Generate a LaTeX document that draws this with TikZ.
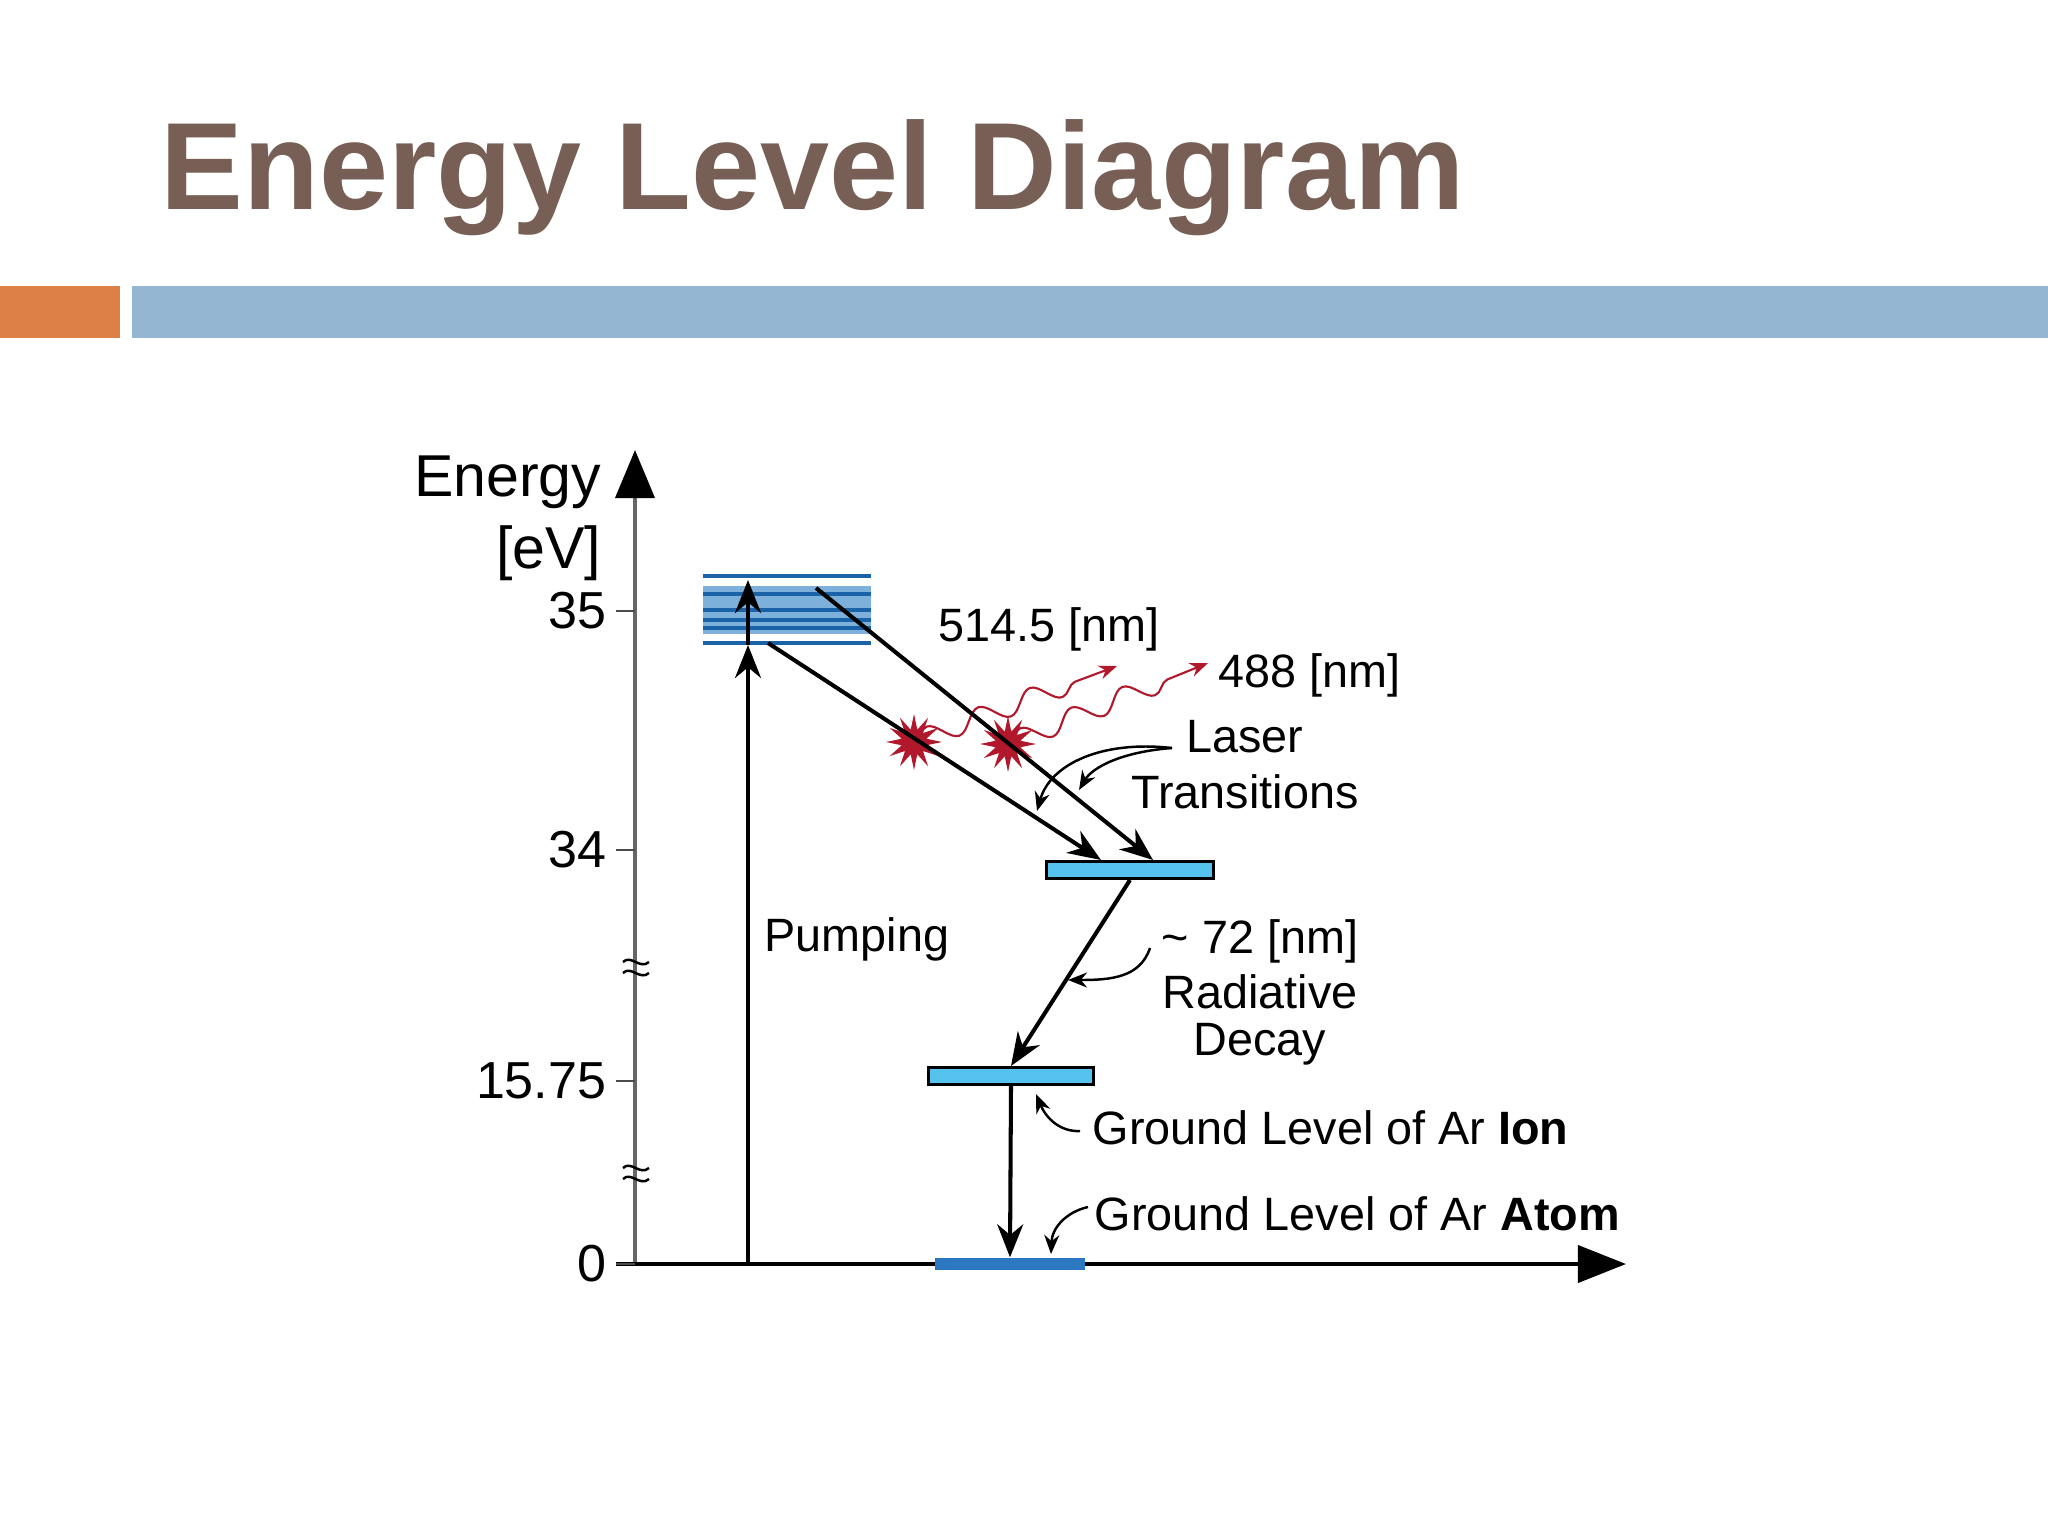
\documentclass[tikz,border=0pt]{standalone}
\usepackage{fontspec}
\setmainfont{Liberation Sans}
\usetikzlibrary{arrows.meta,shapes.geometric,decorations.pathmorphing,positioning}
\definecolor{titlebrown}{HTML}{775F55}
\definecolor{barorange}{HTML}{DD8047}
\definecolor{barblue}{HTML}{94B6D2}
\definecolor{bandline}{HTML}{1A63A8}
\definecolor{bandfill}{HTML}{7DB0DA}
\definecolor{levelfill}{HTML}{56C2EE}
\definecolor{groundfill}{HTML}{2B77C0}
\definecolor{photon}{HTML}{B2182B}

\begin{document}
\begin{tikzpicture}[x=0.01cm, y=-0.01cm,
	lbl/.style={inner sep=0pt, font=\fontsize{13.3}{16}\selectfont},
	ticklbl/.style={inner sep=0pt, anchor=east, font=\fontsize{14.8}{17}\selectfont},
	axlbl/.style={inner sep=0pt, anchor=base east, font=\fontsize{16.8}{20}\selectfont},
	level/.style={draw=black, line width=0.85pt, fill=levelfill, inner sep=0pt, minimum height=0.17cm},
	trans/.style={black, line width=1.15pt, -{Stealth[length=3.3mm, width=2.6mm]}},
	pointer/.style={black, line width=0.7pt, -{Stealth[length=1.9mm, width=1.5mm]}},
	wave/.style={photon, line width=0.6pt, decorate, decoration={snake, amplitude=1mm, segment length=5.5mm, post length=1.8mm}, -{Stealth[length=1.8mm, width=1.4mm]}},
	burst/.style={star, star points=12, star point ratio=2.2, fill=photon, draw=none, inner sep=0pt, minimum size=0.56cm}
]
	\fill[white] (0,0) rectangle (2048,1536);
	\useasboundingbox (0,0) rectangle (2048,1536);
	\node[anchor=base west, inner sep=0pt, text=titlebrown, font=\fontsize{35.3}{40}\selectfont\bfseries] (title) at (160,209) {Energy Level Diagram};
	\fill[barorange] (0,286) rectangle (120,338);
	\fill[barblue] (132,286) rectangle (2048,338);

	\coordinate (origin) at (635,1264);
	\coordinate (etop) at (635,450);
	\coordinate (xstart) at (616,1264);
	\coordinate (xend) at (1626,1264);
	\draw[black!60, line width=1.1pt, -{Triangle[length=4.8mm, width=3.9mm, black]}] (origin) -- (etop);
	\draw[black, line width=1.1pt, -{Triangle[length=4.8mm, width=3.7mm]}] (xstart) -- (xend);
	\node[axlbl] (energy) at (602,496) {Energy};
	\node[axlbl] (unit) at (602,568) {[eV]};
	\foreach \y/\t [count=\i] in {611/35, 850/34, 1081/15.75, 1264/0}{
		\draw[black!70, line width=0.8pt] (616,\y) -- (635,\y);
		\node[ticklbl] (tick\i) at (607,\y) {\t};
	}
	\foreach \b in {969,1175}{
		\draw[black, line width=0.7pt] (623,\b-7) .. controls (631,\b-15) and (640,\b+1) .. (649,\b-7);
		\draw[black, line width=0.7pt] (623,\b+4) .. controls (631,\b-4) and (640,\b+12) .. (649,\b+4);
	}

	\node[fill=bandfill, inner sep=0pt, minimum width=1.68cm, minimum height=0.48cm] (band) at (787,610) {};
	\foreach \y in {576,594,610,620,628,643}
		\draw[bandline, line width=1pt] (703,\y) -- (871,\y);
	\node[level, minimum width=1.67cm] (l34) at (1130,870) {};
	\node[level, minimum width=1.64cm] (l15) at (1011,1076) {};
	\node[fill=groundfill, inner sep=0pt, minimum width=1.49cm, minimum height=0.12cm] (ground) at (1010,1264) {};

	\coordinate (pumpfoot) at (748,1264);
	\coordinate (pumpmid) at (748,645);
	\coordinate (pumptop) at (748,580);
	\draw[trans] (pumpfoot) -- (pumpmid);
	\draw[trans] (pumpmid) -- (pumptop);

	\node[burst] (star1) at (914,742) {};
	\node[burst] (star2) at (1008,744) {};
	\coordinate (wave1) at (1117,666);
	\coordinate (wave2) at (1208,663);
	\draw[wave] (star1.center) -- (wave1);
	\draw[wave] (star2.center) -- (wave2);
	\coordinate (las1) at (768,643);
	\coordinate (las2) at (816,588);
	\draw[trans] (las1) -- ([xshift=-0.29cm]l34.north);
	\draw[trans] (las2) -- ([xshift=0.23cm]l34.north);
	\draw[trans] (l34.south) -- (l15.north);
	\draw[trans] (l15.south) -- (ground.north);

	\node[lbl, anchor=base west] (pump) at (764,951) {Pumping};
	\node[lbl, anchor=base west] (nm514) at (938,641) {514.5 [nm]};
	\node[lbl, anchor=base west] (nm488) at (1218,687) {488 [nm]};
	\node[lbl, anchor=base] (laser) at (1245,752) {Laser};
	\node[lbl, anchor=base] (transit) at (1245,808) {Transitions};
	\node[lbl, anchor=base] (nm72) at (1260,953) {\textasciitilde\ 72 [nm]};
	\node[lbl, anchor=base] (radiative) at (1260,1008) {Radiative};
	\node[lbl, anchor=base] (decay) at (1260,1055) {Decay};
	\node[lbl, anchor=base west] (ion) at (1092,1144) {Ground Level of Ar \textbf{Ion}};
	\node[lbl, anchor=base west] (atom) at (1094,1230) {Ground Level of Ar \textbf{Atom}};

	\coordinate (laserptr) at (1172,748);
	\coordinate (hit1) at (1037,811);
	\coordinate (hit2) at (1079,790);
	\draw[pointer] (laserptr) .. controls (1100,740) and (1050,765) .. (hit1);
	\draw[pointer] (laserptr) .. controls (1120,752) and (1092,768) .. (hit2);
	\coordinate (decayptr) at (1150,948);
	\coordinate (hit3) at (1068,980);
	\draw[pointer] (decayptr) .. controls (1140,978) and (1110,980) .. (hit3);
	\coordinate (ionptr) at (1080,1131);
	\coordinate (hit4) at (1036,1094);
	\draw[pointer] (ionptr) .. controls (1060,1132) and (1046,1118) .. (hit4);
	\coordinate (atomptr) at (1088,1207);
	\coordinate (hit5) at (1051,1254);
	\draw[pointer] (atomptr) .. controls (1066,1212) and (1052,1228) .. (hit5);
\end{tikzpicture}
\end{document}
